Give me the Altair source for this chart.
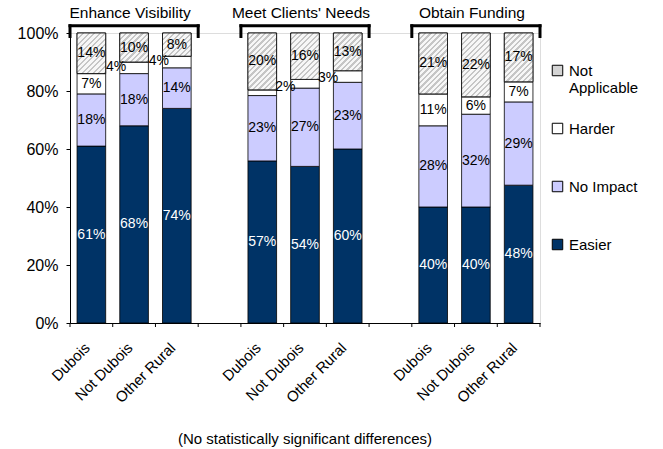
import altair as alt
import pandas as pd

FONT = "Liberation Sans"

# ---------------- data ----------------
group_keys = ["EV", "MC", "OF"]
group_titles = ["Enhance Visibility", "Meet Clients' Needs", "Obtain Funding"]
regions = ["Dubois", "Not Dubois", "Other Rural"]
responses = ["Easier", "No Impact", "Harder", "Not Applicable"]   # bottom -> top

easier         = [61, 68, 74, 57, 54, 60, 40, 40, 48]
no_impact      = [18, 18, 14, 23, 27, 23, 28, 32, 29]
harder         = [7, 4, 4, 2, 3, 4, 11, 6, 7]
not_applicable = [14, 10, 8, 20, 16, 13, 21, 22, 17]

legend_order = ["Not Applicable", "Harder", "No Impact", "Easier"]
legend_colors = ["#d4d4d4", "#ffffff", "#ccccff", "#003366"]

# small "Harder" labels pushed outside of their bar (Excel style)
left_labels = {"EV|Not Dubois", "EV|Other Rural"}
right_labels = {"MC|Dubois", "MC|Not Dubois"}
hidden_labels = {"MC|Other Rural"}

# ---------------- layout helpers ----------------
W, H = 470, 290
P_INNER = 0.33
slots = []
for gi, g in enumerate(group_keys):
    for r in regions:
        slots.append(f"{g}|{r}")
    if gi < len(group_keys) - 1:
        slots.append(f"gap{gi}")
STEP = W / len(slots)
BAR_W = STEP * (1 - P_INNER)
half = STEP / 2

series = {"Easier": easier, "No Impact": no_impact, "Harder": harder,
          "Not Applicable": not_applicable}
rows = []
i = 0
for g in group_keys:
    for r in regions:
        slot = f"{g}|{r}"
        for o, resp in enumerate(responses):
            v = series[resp][i]
            if resp == "Harder" and slot in left_labels:
                pos = "left"
            elif resp == "Harder" and slot in right_labels:
                pos = "right"
            elif resp == "Harder" and slot in hidden_labels:
                pos = "none"
            else:
                pos = "in"
            rows.append(dict(slot=slot, response=resp, order=o, value=v,
                             label=f"{v}%", pos=pos,
                             tcol="white" if resp == "Easier" else "black"))
        i += 1
df = pd.DataFrame(rows)

xscale = alt.Scale(domain=slots, paddingInner=P_INNER, paddingOuter=P_INNER / 2)
yscale = alt.Scale(domain=[0, 1], nice=False)

x_axis = alt.Axis(
    labelExpr="indexof(datum.value, '|') >= 0 ? split(datum.value, '|')[1] : ''",
    labelAngle=-45, labelAlign="right", labelBaseline="middle",
    labelFontSize=15, labelFont=FONT, labelColor="black", labelPadding=22,
    labelOffset=-4, ticks=False, domainColor="black", title=None)
y_axis = alt.Axis(values=[0, 0.2, 0.4, 0.6, 0.8, 1.0], format=".0%", grid=False,
                  labelFontSize=16, labelFont=FONT, labelColor="black",
                  labelPadding=8, tickSize=4, tickColor="black", domainColor="black",
                  title=None)


def X(field):
    return alt.X(field, scale=xscale, title=None)


def Y(field=None, datum=None):
    if datum is not None:
        return alt.Y(datum=datum, scale=yscale, title=None)
    return alt.Y(field, scale=yscale, title=None)


base = alt.Chart(df).transform_stack(
    stack="value", groupby=["slot"], sort=[alt.SortField("order", order="ascending")],
    as_=["y0", "y1"], offset="normalize",
).transform_calculate(ymid="(datum.y0 + datum.y1) / 2")

bars = base.mark_bar(stroke="black", strokeWidth=0.8).encode(
    x=alt.X("slot:N", scale=xscale, axis=x_axis, title=None),
    y=alt.Y("y0:Q", scale=yscale, axis=y_axis, title=None), y2="y1:Q",
    fill=alt.Fill("response:N", scale=alt.Scale(domain=legend_order, range=legend_colors),
                  legend=alt.Legend(title=None, orient="none", legendX=480, legendY=30,
                                    symbolType="square", symbolSize=110,
                                    symbolStrokeColor="black", symbolStrokeWidth=1,
                                    labelFontSize=15, labelFont=FONT, labelColor="black",
                                    rowPadding=25, labelOffset=4,
                                    labelExpr="datum.label == 'Not Applicable' ? ['Not', 'Applicable'] : [datum.label, ' ']")),
)

# hatched fill for the "Not Applicable" segments (diagonal stripes via linear gradients)
layers = [bars]
PERIOD = 5.5
for k, slot in enumerate([s for s in slots if "|" in s]):
    total = easier[k] + no_impact[k] + harder[k] + not_applicable[k]
    h = not_applicable[k] / total * H
    span = (BAR_W ** 2 + h ** 2) / BAR_W
    n = span / PERIOD
    stops = []
    j = 0
    while j / n < 1:
        a = j / n
        b = min((j + 0.42) / n, 1)
        c = min((j + 1) / n, 1)
        stops += [dict(offset=a, color="#c6c6c6"), dict(offset=b, color="#c6c6c6")]
        if b < 1:
            stops += [dict(offset=b, color="#f7f7f7"), dict(offset=c, color="#f7f7f7")]
        j += 1
    grad = dict(gradient="linear", x1=0, y1=0, x2=1, y2=h / BAR_W, stops=stops)
    layers.append(
        base.transform_filter(f"datum.slot == '{slot}' && datum.response == 'Not Applicable'")
        .mark_bar(stroke="black", strokeWidth=0.8, fill=grad)
        .encode(x=X("slot:N"), y=Y("y0:Q"), y2="y1:Q")
    )

txt = dict(fontSize=14, font=FONT)
lab_in = base.transform_filter("datum.pos == 'in'").mark_text(**txt).encode(
    x=X("slot:N"), y=Y("ymid:Q"), text="label:N", color=alt.Color("tcol:N", scale=None))
lab_left = base.transform_filter("datum.pos == 'left'").mark_text(dx=-18, dy=-1, **txt).encode(
    x=X("slot:N"), y=Y("ymid:Q"), text="label:N", color=alt.value("black"))
lab_right = base.transform_filter("datum.pos == 'right'").mark_text(dx=23, dy=-6, **txt).encode(
    x=X("slot:N"), y=Y("ymid:Q"), text="label:N", color=alt.value("black"))
layers += [lab_in, lab_left, lab_right]

# category-boundary ticks on the x axis (Excel puts them between the bars)
tdf = pd.DataFrame({"slot": slots})
TICK_LOW = -4 / H
ticks_l = alt.Chart(tdf).mark_rule(color="black", strokeWidth=1, xOffset=-half).encode(
    x=X("slot:N"), y=Y(datum=0), y2=alt.Y2(datum=TICK_LOW))
ticks_r = alt.Chart(tdf.tail(1)).mark_rule(color="black", strokeWidth=1, xOffset=half).encode(
    x=X("slot:N"), y=Y(datum=0), y2=alt.Y2(datum=TICK_LOW))
layers += [ticks_l, ticks_r]

# group brackets and titles
gdf = pd.DataFrame({
    "first": [f"{g}|{regions[0]}" for g in group_keys],
    "mid": [f"{g}|{regions[1]}" for g in group_keys],
    "last": [f"{g}|{regions[2]}" for g in group_keys],
    "title": group_titles,
})
gbase = alt.Chart(gdf)
BR_TOP, BR_BOT, TITLE_Y = 1.025, 0.988, 1.07
br_h = gbase.mark_rule(color="black", strokeWidth=3, strokeCap="square",
                       xOffset=-half, x2Offset=half).encode(
    x=X("first:N"), x2="last:N", y=Y(datum=BR_TOP))
br_l = gbase.mark_rule(color="black", strokeWidth=3, strokeCap="square", xOffset=-half).encode(
    x=X("first:N"), y=Y(datum=BR_TOP), y2=alt.Y2(datum=BR_BOT))
br_r = gbase.mark_rule(color="black", strokeWidth=3, strokeCap="square", xOffset=half).encode(
    x=X("last:N"), y=Y(datum=BR_TOP), y2=alt.Y2(datum=BR_BOT))
gtitle = gbase.mark_text(fontSize=15.5, font=FONT, color="black", dx=-4).encode(
    x=X("mid:N"), y=Y(datum=TITLE_Y), text="title:N")
layers += [br_h, br_l, br_r, gtitle]

chart = alt.layer(*layers).properties(
    width=W, height=H,
    padding={"left": 70, "top": 33, "right": 123, "bottom": 126},
    autosize=alt.AutoSizeParams(type="none"),
    title=alt.TitleParams("(No statistically significant differences)", orient="bottom",
                          anchor="middle", fontSize=15, fontWeight="normal", font=FONT,
                          color="black", offset=27),
).configure_view(stroke=None).configure(font=FONT, background="white")

chart.save("out.html", embed_options={"renderer": "svg", "actions": False})
